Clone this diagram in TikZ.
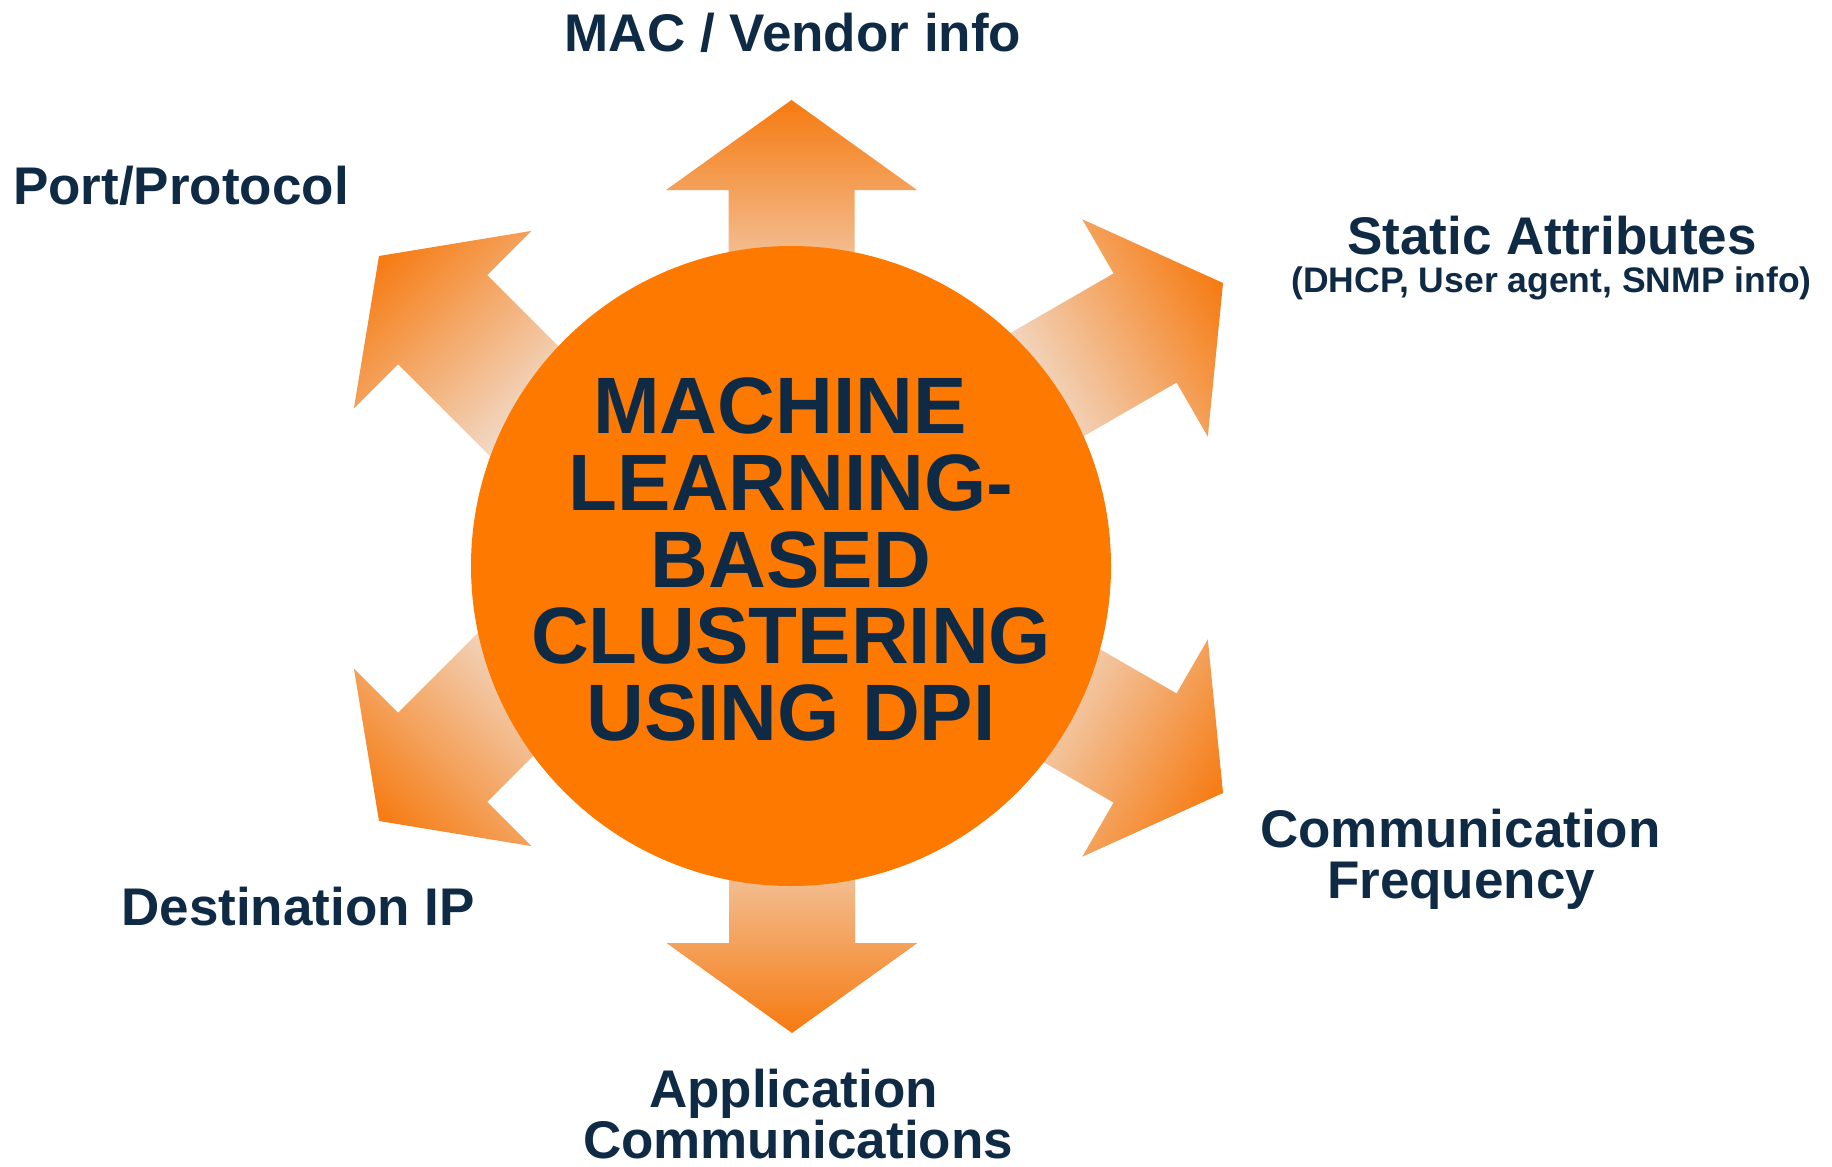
\documentclass[tikz,border=0pt]{standalone}
\usepackage{fontspec}
\setmainfont{Liberation Sans}
\definecolor{navy}{RGB}{15,42,68}
\definecolor{corefill}{RGB}{254,121,0}
\definecolor{arrtip}{RGB}{246,122,16}
\definecolor{arrmid}{RGB}{231,152,94}
\definecolor{arrend}{RGB}{241,224,211}
\tikzset{
  arrowbody/.style={left color=arrend, middle color=arrmid, right color=arrtip, draw=none},
  lbl/.style={font=\fontsize{26.5}{26.5}\selectfont\bfseries, text=navy, inner sep=0pt, anchor=base},
  sublbl/.style={lbl, font=\fontsize{17.75}{17.75}\selectfont\bfseries},
  titletext/.style={font=\fontsize{40}{38.35}\selectfont\bfseries, text=navy, inner sep=0pt, align=center, anchor=north},
}
\newcommand\outarrow[3]{%
  \begin{scope}[overlay, transform canvas={shift={(#1,#2)}, rotate=#3}]
    \path[arrowbody] (0,0) -- (-90,125.5) -- (-90,63) -- (-235,63) -- (-235,-63)
      -- (-90,-63) -- (-90,-125.5) -- cycle;
  \end{scope}}
\begin{document}
\begin{tikzpicture}[x=0.5pt, y=-0.5pt]
  \useasboundingbox (0,0) rectangle (1832,1167);
  % arrows
  \outarrow{791.5}{100}{90}
  \outarrow{792}{1033}{-90}
  \outarrow{1223}{283}{30}
  \outarrow{1223}{793}{-30}
  \outarrow{379}{256}{135}
  \outarrow{379}{821}{225}
  % core circle
  \node (core) [circle, fill=corefill, inner sep=0pt, minimum size=320pt] at (791,566) {};
  \node (title) [titletext] at (791,369.3)
    {\rule{0pt}{32pt}MACHINE\hspace*{0.278em}\\LEARNING-\\BASED\hspace*{0.278em}\\CLUSTERING\\USING DPI};
  % labels
  \node (mac) [lbl] at (793,51) {MAC / Vendor info};
  \node (port) [lbl] at (181,204) {Port/Protocol};
  \node (static) [lbl] at (1552,254) {Static Attributes};
  \node (staticsub) [sublbl] at (1551.5,292.5) {(DHCP, User agent, SNMP info)};
  \node (comm1) [lbl] at (1460.5,847) {Communication};
  \node (comm2) [lbl] at (1461,898) {Frequency};
  \node (dest) [lbl] at (298,925) {Destination IP};
  \node (app1) [lbl] at (793.5,1107) {Application};
  \node (app2) [lbl] at (798,1158) {Communications};
\end{tikzpicture}
\end{document}
